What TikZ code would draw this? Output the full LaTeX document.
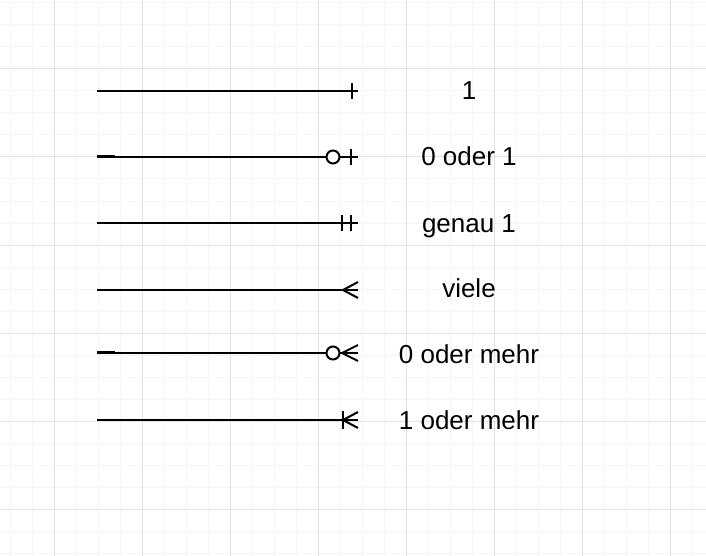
\documentclass[tikz,border=0pt]{standalone}
\usepackage{fontspec}
\setmainfont{Liberation Sans}
\usetikzlibrary{positioning}
\definecolor{gridminor}{HTML}{F6F6F6}
\definecolor{gridmajor}{HTML}{E2E2E2}
\tikzset{
  rel/.style={line width=2pt, black},
  lbl/.style={font=\fontsize{26}{31}\selectfont, inner sep=0pt, anchor=base},
}
\begin{document}
\begin{tikzpicture}[x=1pt,y=-1pt]
  \useasboundingbox (0,0) rectangle (706,556);

  % Grid
  \foreach \x in {10,32,...,706} \draw[gridminor, line width=1pt] (\x,0) -- (\x,556);
  \foreach \y in {3,25,...,556}  \draw[gridminor, line width=1pt] (0,\y) -- (706,\y);
  \foreach \x in {54,142,...,706} \draw[gridmajor, line width=1pt] (\x,0) -- (\x,556);
  \foreach \y in {69,157,...,556} \draw[gridmajor, line width=1pt] (0,\y) -- (706,\y);

  % Line ends
  \foreach \y/\n in {91/1,157/2,223/3,290/4,353/5,420/6} {
    \coordinate (s\n) at (97,\y);
    \coordinate (e\n) at (358,\y);
  }

  % Lines
  \foreach \n in {1,...,6} \draw[rel] (s\n) -- (e\n);
  \draw[black, line width=3pt] (s2) ++(0,-0.5) -- ++(18,0);
  \draw[black, line width=3pt] (s5) ++(0,-0.5) -- ++(18,0);

  % 1
  \draw[rel] (e1) ++(-6,-8) -- ++(0,16);
  % 0 oder 1
  \draw[rel, fill=white] (e2) ++(-25,0) circle (6.5);
  \draw[rel] (e2) ++(-7,-8) -- ++(0,16);
  % genau 1
  \draw[rel] (e3) ++(-16,-8) -- ++(0,16);
  \draw[rel] (e3) ++(-7,-8) -- ++(0,16);
  % viele
  \draw[rel] (e4) ++(0,-8) -- ++(-15,8) -- ++(15,8);
  % 0 oder mehr
  \draw[rel, fill=white] (e5) ++(-25,0) circle (6.5);
  \draw[rel] (e5) ++(0,-8) -- ++(-16,8) -- ++(16,8);
  % 1 oder mehr
  \draw[rel] (e6) ++(0,-8) -- ++(-15,8) -- ++(15,8);
  \draw[rel] (e6) ++(-15,-9) -- ++(0,18);

  % Labels
  \node[lbl] (l1) at (469,100) {1};
  \node[lbl] (l2) at (469,166) {0 oder 1};
  \node[lbl] (l3) at (469,232) {genau 1};
  \node[lbl] (l4) at (469,297) {viele};
  \node[lbl] (l5) at (469,363) {0 oder mehr};
  \node[lbl] (l6) at (469,429) {1 oder mehr};
\end{tikzpicture}
\end{document}
